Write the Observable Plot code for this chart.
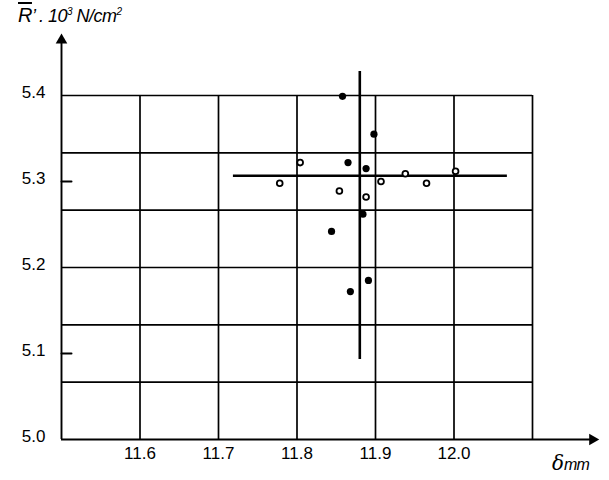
<!DOCTYPE html>
<html>
<head>
<meta charset="utf-8">
<script src="https://cdn.jsdelivr.net/npm/d3@7"></script>
<script src="https://cdn.jsdelivr.net/npm/@observablehq/plot@0.6"></script>
<style>
  body { margin: 0; background: #fff; }
  #wrap { position: relative; width: 609px; height: 480px; font-family: "Liberation Sans", Arial, sans-serif; }
  #title { position: absolute; left: 18px; top: 4px; font-size: 18px; line-height: 22px; font-style: italic; letter-spacing: -0.5px; white-space: nowrap; }
  #title .r { text-decoration: overline; font-size: 20px; }
  #title sup { font-size: 10px; line-height: 0; vertical-align: 7px; }
  #xlab { position: absolute; left: 552px; top: 451px; white-space: nowrap; font-style: italic; }
  #xlab .d { font-family: "DejaVu Serif", serif; font-size: 20px; }
  #xlab .m { font-size: 16px; letter-spacing: -0.8px; }
  #chart svg g[aria-label$="tick label"] { font-size: 17px; }
</style>
</head>
<body>
<div id="wrap">
  <div id="chart"></div>
  <div id="title"><span class="r">R</span>&#8217; . 10<sup>3</sup> N/cm<sup>2</sup></div>
  <div id="xlab"><span class="d">δ</span><span class="m">mm</span></div>
</div>
<script>
// ---- data ----
const xTicks = [11.6, 11.7, 11.8, 11.9, 12.0];
const yTicks = [5.0, 5.1, 5.2, 5.3, 5.4];
const yMinorTicks = [5.1, 5.3];
const gridXs = [11.6, 11.7, 11.8, 11.9, 12.0, 12.1];
const gridYs = [5.0667, 5.1333, 5.2, 5.2667, 5.3333, 5.4];
const filledX = [11.858, 11.898, 11.865, 11.888, 11.884, 11.844, 11.891, 11.868];
const filledY = [5.399, 5.355, 5.322, 5.315, 5.262, 5.242, 5.185, 5.172];
const openX = [11.778, 11.804, 11.854, 11.888, 11.907, 11.938, 11.965, 12.002];
const openY = [5.298, 5.322, 5.289, 5.282, 5.300, 5.309, 5.298, 5.312];
const meanX = 11.88, meanY = 5.3067;
const meanXSpan = [11.719, 12.068];
const meanYSpan = [5.093, 5.428];
const xDomain = [11.5, 12.1];
const yDomain = [5.0, 5.4];
const xAxisEnd = 12.1765;
const yAxisEnd = 5.4643;

const filled = filledX.map((x, i) => ({x, y: filledY[i]}));
const open = openX.map((x, i) => ({x, y: openY[i]}));

const chart = Plot.plot({
  width: 609,
  height: 480,
  marginLeft: 61,
  marginRight: 77,
  marginTop: 95,
  marginBottom: 41,
  style: {fontFamily: "Liberation Sans, Arial, sans-serif", fontSize: "17px", color: "#000", background: "#fff"},
  x: {domain: xDomain},
  y: {domain: yDomain},
  marks: [
    Plot.ruleX(gridXs, {y1: yDomain[0], y2: yDomain[1], stroke: "#000", strokeWidth: 1.7}),
    Plot.ruleY(gridYs, {x1: xDomain[0], x2: xDomain[1], stroke: "#000", strokeWidth: 1.7}),
    // axes lines with arrows
    Plot.ruleY([yDomain[0]], {x1: xDomain[0], x2: xAxisEnd, stroke: "#000", strokeWidth: 1.9}),
    Plot.ruleX([xDomain[0]], {y1: yDomain[0], y2: yAxisEnd, stroke: "#000", strokeWidth: 1.9}),
    Plot.dot([{x: xAxisEnd, y: yDomain[0]}], {x: "x", y: "y", symbol: "triangle", r: 4.3, fill: "#000", stroke: null, rotate: 90}),
    Plot.dot([{x: xDomain[0], y: yAxisEnd}], {x: "x", y: "y", symbol: "triangle", r: 4.3, fill: "#000", stroke: null, rotate: 0}),
    // minor y ticks
    Plot.vector(yMinorTicks, {x: () => xDomain[0], y: d => d, length: 10, rotate: 90, anchor: "start", stroke: "#000", strokeWidth: 2,
      shape: {draw(ctx, l) { ctx.moveTo(0, 0); ctx.lineTo(0, -l); }}}),
    // mean cross
    Plot.ruleY([meanY], {x1: meanXSpan[0], x2: meanXSpan[1], stroke: "#000", strokeWidth: 2.6}),
    Plot.ruleX([meanX], {y1: meanYSpan[0], y2: meanYSpan[1], stroke: "#000", strokeWidth: 2.6}),
    // points
    Plot.dot(filled, {x: "x", y: "y", r: 3.6, fill: "#000", stroke: null}),
    Plot.dot(open, {x: "x", y: "y", r: 2.9, fill: "#fff", stroke: "#000", strokeWidth: 1.8}),
    // axes labels
    Plot.axisX(xTicks, {tickSize: 0, tickPadding: 7, fontSize: 17, tickFormat: d => d.toFixed(1), label: null}),
    Plot.axisY(yTicks, {tickSize: 0, tickPadding: 16, fontSize: 17, dy: -3, tickFormat: d => d.toFixed(1), label: null})
  ]
});
document.getElementById("chart").appendChild(chart);
</script>
</body>
</html>
